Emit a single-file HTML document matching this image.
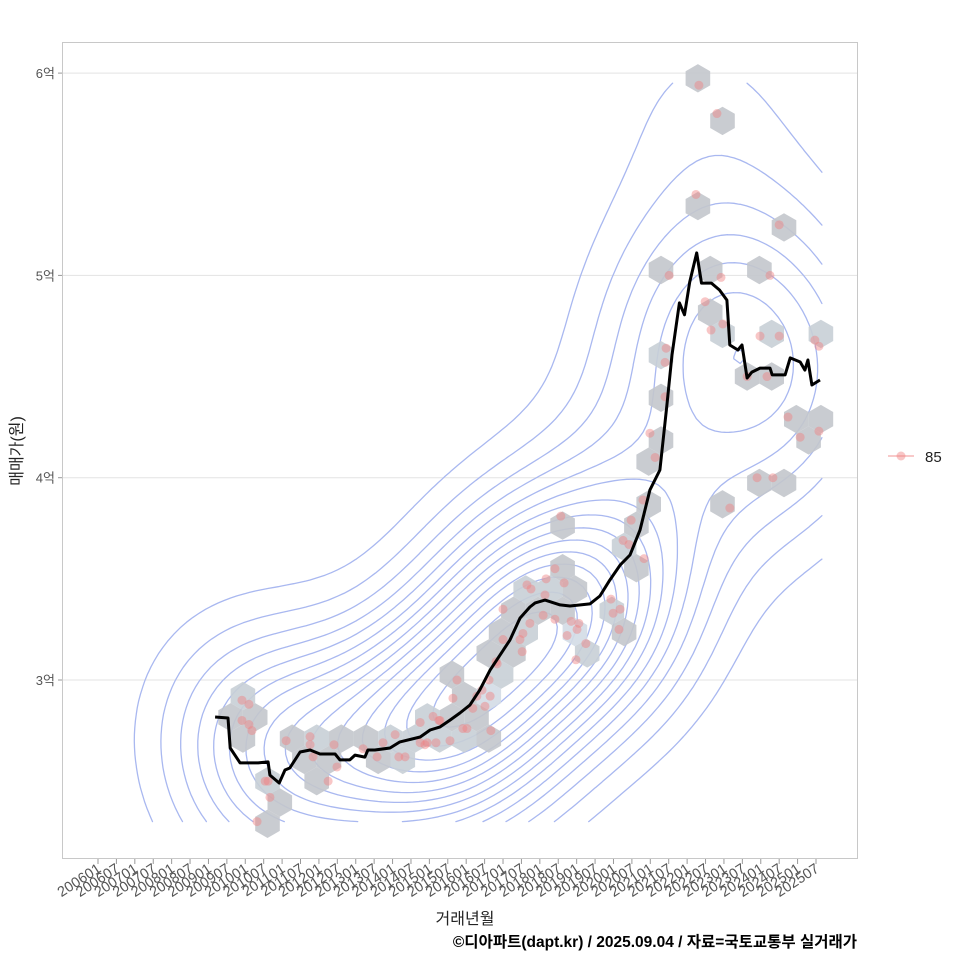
<!DOCTYPE html>
<html><head><meta charset="utf-8">
<style>
html,body{margin:0;padding:0;background:#fff;}
svg{display:block;font-family:"Liberation Sans","Noto Sans CJK KR",sans-serif;}
</style></head>
<body>
<svg id="chart" width="960" height="960" viewBox="0 0 960 960">
<rect x="0" y="0" width="960" height="960" fill="#fff"/>
<rect x="62.5" y="42.5" width="795" height="816" fill="#fff" stroke="#c8c8c8"/>
<g id="grid"></g>
<g id="contours"></g>
<g id="hexes"></g>
<g id="points"></g>
<g id="line"></g>
<g id="yaxis"></g>
<g id="xaxis"></g>
<text x="22" y="451" transform="rotate(-90 22 451)" text-anchor="middle" font-size="16" fill="#222">매매가(원)</text>
<text x="465" y="924" text-anchor="middle" font-size="16" fill="#222">거래년월</text>
<text x="857" y="947" text-anchor="end" font-size="15.5" font-weight="bold" fill="#000">©디아파트(dapt.kr) / 2025.09.04 / 자료=국토교통부 실거래가</text>
<g>
<g>
<line x1="888" y1="456" x2="914" y2="456" stroke="#f4a6a6" stroke-width="1.5" opacity="0.8"/>
<circle cx="901" cy="456" r="4.5" fill="#f08080" fill-opacity="0.45"/>
<text x="925" y="462" font-size="15" fill="#222">85</text>
</g></g>
</svg>
<script>
// ---- data ----
const lineYears = [2009.18,2009.53,2009.59,2009.86,2010.35,2010.62,2010.67,2010.92,2011.08,2011.21,2011.49,2011.76,2012.03,2012.44,2012.57,2012.84,2012.98,2013.25,2013.33,2013.52,2013.93,2014.20,2014.75,2015.02,2015.29,2015.56,2015.83,2016.10,2016.37,2016.65,2016.92,2017.19,2017.46,2017.73,2017.87,2018.14,2018.55,2018.82,2019.36,2019.63,2019.90,2020.18,2020.45,2020.72,2020.99,2021.26,2021.45,2021.59,2021.79,2021.93,2022.07,2022.26,2022.39,2022.66,2022.88,2023.08,2023.16,2023.38,2023.49,2023.63,2023.76,2023.98,2024.25,2024.31,2024.66,2024.80,2025.07,2025.20,2025.28,2025.39,2025.61];
const linePrices = [2.817,2.812,2.664,2.590,2.590,2.595,2.530,2.491,2.555,2.565,2.644,2.654,2.634,2.634,2.605,2.605,2.629,2.619,2.654,2.654,2.664,2.694,2.718,2.753,2.768,2.802,2.837,2.876,2.951,3.049,3.124,3.198,3.306,3.361,3.381,3.395,3.371,3.366,3.376,3.415,3.494,3.568,3.618,3.741,3.939,4.038,4.359,4.607,4.864,4.805,4.967,5.111,4.962,4.962,4.928,4.878,4.656,4.631,4.656,4.493,4.522,4.542,4.542,4.508,4.508,4.592,4.572,4.532,4.582,4.458,4.483];
const pointYears = [2022.32,2022.81,2022.24,2024.50,2021.51,2022.92,2024.25,2022.49,2022.97,2022.65,2023.98,2024.50,2025.47,2025.58,2021.43,2021.40,2023.63,2024.17,2021.40,2020.99,2024.74,2025.58,2025.07,2021.13,2023.90,2024.33,2023.16,2020.80,2020.48,2020.26,2020.42,2020.83,2018.57,2018.41,2018.17,2018.66,2017.65,2017.76,2018.14,2019.93,2019.99,2020.18,2018.09,2018.41,2018.85,2019.06,2017.73,2017.00,2017.54,2018.74,2019.01,2019.25,2020.15,2017.00,2017.46,2017.52,2018.98,2016.84,2015.75,2016.62,2016.43,2015.64,2016.65,2016.18,2016.51,2015.10,2015.29,2015.91,2016.67,2014.94,2015.18,2015.56,2014.88,2009.91,2010.10,2009.91,2010.10,2010.18,2011.11,2011.76,2011.76,2012.41,2011.84,2012.49,2010.54,2010.62,2010.67,2012.25,2010.32,2013.20,2013.74,2014.07,2013.58,2014.17,2014.34,2014.75,2015.26,2014.75,2016.29,2016.02,2016.81];
const pointPrices = [5.94,5.80,5.40,5.25,5.00,4.99,5.00,4.87,4.76,4.73,4.70,4.70,4.68,4.65,4.64,4.57,4.50,4.50,4.40,4.22,4.30,4.23,4.20,4.10,4.00,4.00,3.85,3.89,3.79,3.69,3.67,3.60,3.81,3.55,3.50,3.48,3.47,3.45,3.42,3.40,3.33,3.35,3.32,3.30,3.29,3.28,3.28,3.35,3.23,3.22,3.25,3.18,3.25,3.20,3.20,3.14,3.10,3.08,3.00,3.00,2.95,2.91,2.92,2.86,2.87,2.82,2.80,2.76,2.75,2.69,2.69,2.70,2.68,2.90,2.88,2.80,2.78,2.75,2.70,2.72,2.68,2.68,2.62,2.57,2.50,2.50,2.42,2.50,2.30,2.66,2.69,2.73,2.62,2.62,2.62,2.79,2.80,2.69,2.92,2.76,3.09];
const yTickValues = [3,4,5,6];
const yTickLabels = ["3억","4억","5억","6억"];
const xTickLabels = ["200601","200607","200701","200707","200801","200807","200901","200907","201001","201007","201101","201107","201201","201207","201301","201307","201401","201407","201501","201507","201601","201607","201701","201707","201801","201807","201901","201907","202001","202007","202101","202107","202201","202207","202301","202307","202401","202407","202501","202507"];

// ---- scales ----
const X0 = 98, XPY = 36.82;
const xs = y => X0 + (y - 2006) * XPY;
const ys = p => 680 - (p - 3) * 202.3;
const NS = "http://www.w3.org/2000/svg";
function mk(tag, parent, attrs){ const e=document.createElementNS(NS,tag); for(const k in attrs) e.setAttribute(k,attrs[k]); parent.appendChild(e); return e; }

const grid=document.getElementById('grid'), ya=document.getElementById('yaxis');
yTickValues.forEach((v,i)=>{
  const y=ys(v);
  const g=mk('line',grid,{x1:63,x2:857,y1:y,y2:y,stroke:'#e3e3e3','stroke-width':1});
  
  
  const t=mk('line',ya,{x1:58,x2:62,y1:y,y2:y,stroke:'#999'});
  
  
  const l=mk('text',ya,{x:55,y:y+5,'text-anchor':'end','font-size':13,fill:'#555'});
  l.textContent=yTickLabels[i];
  
  
});
const xa=document.getElementById('xaxis');
xTickLabels.forEach((s,i)=>{
  const yr=+s.slice(0,4)+(+s.slice(4)-1)/12;
  const x=xs(yr);
  const t=mk('line',xa,{x1:x,x2:x,y1:859,y2:864,stroke:'#999'});
  
  
  const l=mk('text',xa,{x:x+4,y:871,'text-anchor':'end','font-size':14.5,fill:'#555',transform:`rotate(-33 ${x+4} 871)`});
  l.textContent=s;
  
  
});

// ---- density contours ----
(function(){
  const n=pointYears.length;
  const px=pointYears.map(xs), py=pointPrices.map(ys);
  function bw(a){ const s=[...a].sort((p,q)=>p-q); const m=a.reduce((p,q)=>p+q,0)/a.length;
    const sd=Math.sqrt(a.reduce((p,q)=>p+(q-m)*(q-m),0)/(a.length-1));
    const iqr=s[Math.floor(0.75*(s.length-1))]-s[Math.floor(0.25*(s.length-1))];
    return 1.06*Math.min(sd,iqr/1.34)*Math.pow(a.length,-0.2); }
  const hx=bw(px)*1.05, hy=bw(py)*1.05;
  const gx0=130, gx1=Math.max(...px)+3, gy0=Math.min(...py)-2, gy1=Math.max(...py);
  const N=110, M=110;
  const G=[];
  let mx=0;
  for(let j=0;j<=M;j++){ const row=[]; const y=gy0+(gy1-gy0)*j/M;
    for(let i=0;i<=N;i++){ const x=gx0+(gx1-gx0)*i/N; let s=0;
      for(let k=0;k<n;k++){ const dx=(x-px[k])/hx, dy=(y-py[k])/hy; s+=Math.exp(-0.5*(dx*dx+dy*dy)); }
      row.push(s); if(s>mx) mx=s; }
    G.push(row); }
  const cg=document.getElementById('contours');
  const L=15;
  for(let l=1;l<=L;l++){
    const lv=mx*(0.075+0.062*(l-1)); let d='';
    for(let j=0;j<M;j++) for(let i=0;i<N;i++){
      const x0=gx0+(gx1-gx0)*i/N, x1=gx0+(gx1-gx0)*(i+1)/N, y0=gy0+(gy1-gy0)*j/M, y1=gy0+(gy1-gy0)*(j+1)/M;
      const a=G[j][i], b=G[j][i+1], c=G[j+1][i+1], e=G[j+1][i];
      const pts=[];
      const it=(va,vb,xa_,ya_,xb,yb)=>{ const t=(lv-va)/(vb-va); return [xa_+(xb-xa_)*t, ya_+(yb-ya_)*t]; };
      if((a<lv)!==(b<lv)) pts.push(it(a,b,x0,y0,x1,y0));
      if((b<lv)!==(c<lv)) pts.push(it(b,c,x1,y0,x1,y1));
      if((c<lv)!==(e<lv)) pts.push(it(c,e,x1,y1,x0,y1));
      if((e<lv)!==(a<lv)) pts.push(it(e,a,x0,y1,x0,y0));
      for(let q=0;q+1<pts.length;q+=2) d+=`M${pts[q][0].toFixed(1)} ${pts[q][1].toFixed(1)}L${pts[q+1][0].toFixed(1)} ${pts[q+1][1].toFixed(1)}`;
    }
    const p=mk('path',cg,{d:d,fill:'none',stroke:'#a9b8f0','stroke-width':1.3,'stroke-linecap':'round'});
    
    
  }
})();

// ---- hexbin ----
(function(){
  const R=14.2, W=R*Math.sqrt(3), H=R*1.5, ox=661, oy=270;
  const bins={};
  pointYears.forEach((yr,k)=>{
    const x=xs(yr), y=ys(pointPrices[k]);
    let best=null,bd=1e9;
    const r0=Math.round((y-oy)/H);
    for(let r=r0-1;r<=r0+1;r++){ const off=(((r%2)+2)%2)?W/2:0; const c0=Math.round((x-ox-off)/W);
      for(let c=c0-1;c<=c0+1;c++){ const cx=ox+off+c*W, cy=oy+r*H; const dd=(cx-x)**2+(cy-y)**2; if(dd<bd){bd=dd;best=[cx,cy];} } }
    const key=best[0].toFixed(1)+','+best[1].toFixed(1);
    bins[key]=(bins[key]||0)+1;
  });
  const hg=document.getElementById('hexes');
  for(const key in bins){ const [cx,cy]=key.split(',').map(Number); const cnt=bins[key];
    let d=''; for(let a=0;a<6;a++){ const ang=Math.PI/180*(60*a-90); d+=(a?'L':'M')+(cx+R*Math.cos(ang)).toFixed(1)+' '+(cy+R*Math.sin(ang)).toFixed(1); }
    const fill = cnt>=4?'#d3dce6':(cnt>=2?'#c8cfd6':'#c3c7cc');
    const h=mk('path',hg,{d:d+'Z',fill:fill,'fill-opacity':0.9});
    
    
  }
})();

// ---- points ----
const pg=document.getElementById('points');
pointYears.forEach((yr,k)=>{
  const c=mk('circle',pg,{cx:xs(yr),cy:ys(pointPrices[k]),r:4.5,fill:'#f08080','fill-opacity':0.45});
  
  
});

// ---- line ----
(function(){
  let d=''; lineYears.forEach((yr,k)=>{ d+=(k?'L':'M')+xs(yr).toFixed(1)+' '+ys(linePrices[k]).toFixed(1); });
  const p=mk('path',document.getElementById('line'),{d:d,fill:'none',stroke:'#000','stroke-width':3,'stroke-linejoin':'round'});
  
  
})();
</script>
</body></html>
